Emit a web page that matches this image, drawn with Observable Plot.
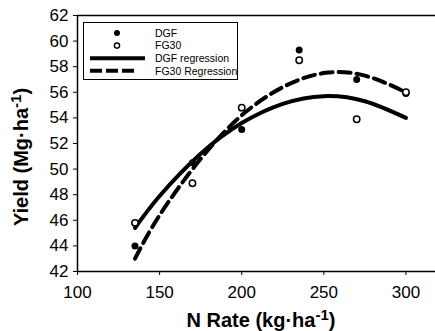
<!DOCTYPE html>
<html>
<head>
<meta charset="utf-8">
<script src="https://cdn.jsdelivr.net/npm/d3@7"></script>
<script src="https://cdn.jsdelivr.net/npm/@observablehq/plot@0.6"></script>
<style>
  html, body { margin: 0; padding: 0; background: #fff; }
  #wrap { position: relative; width: 435px; height: 331px; overflow: hidden; }
  .legend { position: absolute; left: 83px; top: 22px; width: 155px; height: 58px;
            border: 1.5px solid #000; background: #fff; box-sizing: border-box;
            font-family: Arial, "Liberation Sans", sans-serif; font-size: 10.5px; }
  .legend svg { position: absolute; left: 0; top: 0; }
</style>
</head>
<body>
<div id="wrap"></div>
<script>
// Observed data
const nRate = [135, 170, 200, 235, 270, 300];
const dgf   = [44.0, 50.5, 53.1, 59.3, 57.0, 55.9];
const fg30  = [45.8, 48.9, 54.8, 58.5, 53.9, 56.0];

// Regression curves
const curveX   = [135, 150, 175, 200, 225, 250, 275, 300];
const dgfReg   = [45.4, 47.9, 51.2, 53.6, 55.1, 55.7, 55.3, 54.0];
const fg30Reg  = [43.0, 46.4, 50.8, 54.2, 56.4, 57.5, 57.3, 56.0];

const xTicks = [100, 150, 200, 250, 300];
const yTicks = [42, 44, 46, 48, 50, 52, 54, 56, 58, 60, 62];

const pts = nRate.map((x, i) => ({x, dgf: dgf[i], fg30: fg30[i]}));
const regs = curveX.map((x, i) => ({x, dgf: dgfReg[i], fg30: fg30Reg[i]}));

const font = 'Arial, "Liberation Sans", sans-serif';

const plot = Plot.plot({
  width: 435,
  height: 331,
  marginLeft: 77,
  marginRight: 0,
  marginTop: 15,
  marginBottom: 60,
  style: {fontFamily: font, fontSize: "17px", color: "#000", background: "#fff", overflow: "visible"},
  x: {domain: [100, 318], ticks: xTicks, label: null, tickSize: 4, tickPadding: 10},
  y: {domain: [42, 62], ticks: yTicks, label: null, tickSize: 4, tickPadding: 5},
  marks: [
    Plot.ruleY([62], {stroke: "#000", strokeWidth: 1.5}),
    Plot.ruleY([42], {stroke: "#000", strokeWidth: 1.5}),
    Plot.ruleX([100], {stroke: "#000", strokeWidth: 1.5}),
    Plot.line(regs, {x: "x", y: "dgf", curve: "natural", stroke: "#000", strokeWidth: 4}),
    Plot.line(regs, {x: "x", y: "fg30", curve: "natural", stroke: "#000", strokeWidth: 4, strokeDasharray: "12,6"}),
    Plot.dot(pts, {x: "x", y: "dgf", r: 3.5, fill: "#000", stroke: "none"}),
    Plot.dot(pts, {x: "x", y: "fg30", r: 3.2, fill: "#fff", stroke: "#000", strokeWidth: 1.5})
  ]
});

const wrap = document.getElementById("wrap");
wrap.appendChild(plot);

const svg = d3.select(plot);
svg.selectAll("g[aria-label='x-axis tick label'] text, g[aria-label='y-axis tick label'] text")
   .attr("fill", "#000");

// Axis titles
const xt = svg.append("text")
  .attr("x", 261).attr("y", 327)
  .attr("text-anchor", "middle")
  .attr("font-family", font).attr("font-weight", "bold").attr("font-size", 20).attr("fill", "#000");
xt.append("tspan").text("N Rate (kg·ha");
xt.append("tspan").attr("dy", -7).attr("font-size", 15).text("-1");
xt.append("tspan").attr("dy", 7).text(")");

const yt = svg.append("text")
  .attr("transform", "translate(28,157) rotate(-90)")
  .attr("text-anchor", "middle")
  .attr("font-family", font).attr("font-weight", "bold").attr("font-size", 20).attr("fill", "#000");
yt.append("tspan").text("Yield (Mg·ha");
yt.append("tspan").attr("dy", -7).attr("font-size", 15).text("-1");
yt.append("tspan").attr("dy", 7).text(")");

// Legend
const legendItems = [
  {label: "DGF", kind: "filled"},
  {label: "FG30", kind: "open"},
  {label: "DGF regression", kind: "solid"},
  {label: "FG30 Regression", kind: "dashed"}
];
const leg = document.createElement("div");
leg.className = "legend";
wrap.appendChild(leg);
const ls = d3.select(leg).append("svg").attr("width", 155).attr("height", 58);
legendItems.forEach((d, i) => {
  const cy = 10 + i * 12.6;
  if (d.kind === "filled") ls.append("circle").attr("cx", 33).attr("cy", cy).attr("r", 3).attr("fill", "#000");
  if (d.kind === "open") ls.append("circle").attr("cx", 33).attr("cy", cy).attr("r", 2.6).attr("fill", "#fff").attr("stroke", "#000").attr("stroke-width", 1.4);
  if (d.kind === "solid") ls.append("line").attr("x1", 6).attr("x2", 61).attr("y1", cy).attr("y2", cy).attr("stroke", "#000").attr("stroke-width", 4);
  if (d.kind === "dashed") ls.append("line").attr("x1", 6).attr("x2", 54).attr("y1", cy).attr("y2", cy).attr("stroke", "#000").attr("stroke-width", 4).attr("stroke-dasharray", "12,4");
  ls.append("text").attr("x", 71).attr("y", cy + 3.8).attr("font-family", font).attr("font-size", 10.5).attr("fill", "#000").text(d.label);
});
</script>
</body>
</html>
